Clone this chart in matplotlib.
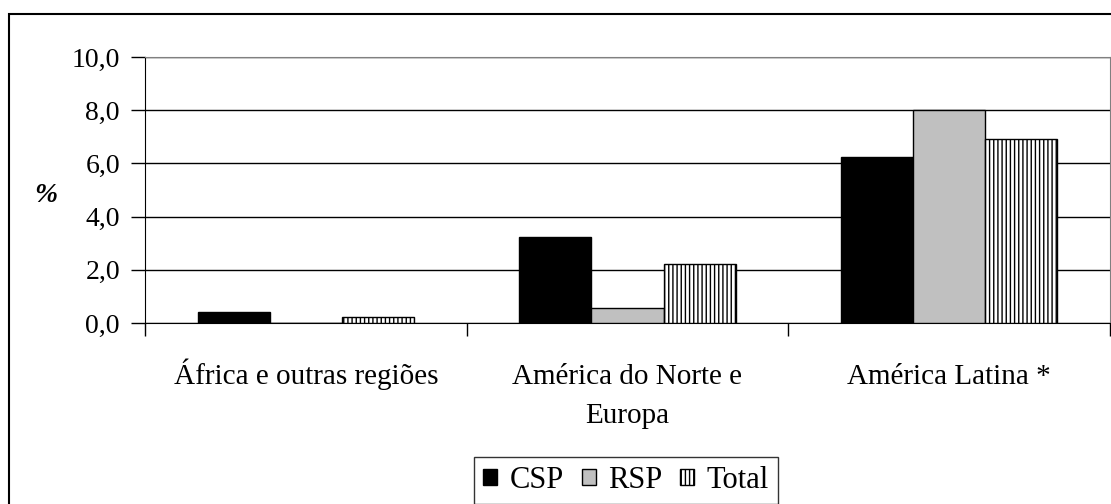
import matplotlib.pyplot as plt
import matplotlib.patches as mpatches
import matplotlib.ticker as mticker
import matplotlib.transforms as mtransforms
import numpy as np

plt.rcParams['font.family'] = ['Liberation Serif', 'DejaVu Serif']
plt.rcParams['hatch.linewidth'] = 1.0

regioes = ["África e outras regiões", "América do Norte e\nEuropa", "América Latina *"]
series = ["CSP", "RSP", "Total"]
csp = [0.40, 3.22, 6.23]
rsp = [0.0, 0.56, 8.0]
total = [0.21, 2.20, 6.93]
y_ticks = [0.0, 2.0, 4.0, 6.0, 8.0, 10.0]

fig = plt.figure(figsize=(11.11, 5.04), dpi=100, facecolor="white")

# cadre extérieur
fig.patches.append(mpatches.Rectangle((9 / 1111, -0.05), 1.2, 1 - 14 / 504 + 0.05,
                                      transform=fig.transFigure, fill=False,
                                      edgecolor="black", linewidth=1.5))

ax = fig.add_axes([145 / 1111, 181 / 504, 965 / 1111, 266 / 504])

x = np.arange(len(regioes))
w = 0.224
ax.bar(x - w, csp, w, color="black", edgecolor="black", linewidth=1, zorder=3)
ax.bar(x, rsp, w, color="#C0C0C0", edgecolor="black", linewidth=1, zorder=3)
ax.bar(x + w, total, w, color="white", edgecolor="black", hatch="||||", linewidth=1, zorder=3)

ax.set_xlim(-0.5, len(regioes) - 0.5)
ax.set_ylim(0, 10)
ax.set_yticks(y_ticks)
ax.yaxis.set_major_formatter(mticker.FuncFormatter(lambda v, p: f"{v:.1f}".replace(".", ",")))
ax.grid(axis="y", color="black", linewidth=1, zorder=0)

# graduations aux limites de catégories
ax.set_xticks(np.arange(len(regioes) + 1) - 0.5)
ax.set_xticklabels([])
ax.tick_params(axis="x", which="major", direction="out", length=9, width=1, color="black")
ax.tick_params(axis="y", direction="out", length=10, width=1, labelsize=20, pad=8)

# étiquettes de catégories : première ligne sur une base commune
trans = mtransforms.blended_transform_factory(ax.transData, ax.transAxes)
for xi, nom in zip(x, regioes):
    n = nom.count("\n")
    ax.text(xi, -(61 + 39 * n) / 266, nom, transform=trans, ha="center", va="baseline",
            fontsize=21, linespacing=1.63, multialignment="center")

ax.spines["left"].set_color("black")
ax.spines["bottom"].set_color("black")
ax.spines["top"].set_color("#808080")
ax.spines["right"].set_color("#808080")

fig.text(46 / 1111, 1 - 195 / 504, "%", fontsize=20, fontweight="bold", fontstyle="italic",
         ha="center", va="center")

handles = [mpatches.Patch(facecolor="black", edgecolor="black", label=series[0]),
           mpatches.Patch(facecolor="#C0C0C0", edgecolor="black", label=series[1]),
           mpatches.Patch(facecolor="white", edgecolor="black", hatch="||||", label=series[2])]
leg = fig.legend(handles=handles, loc="upper center", bbox_to_anchor=(626 / 1111, 1 - 457 / 504),
                 ncol=3, fontsize=22, frameon=True, fancybox=False, handlelength=0.45,
                 handleheight=0.45, handletextpad=0.4, columnspacing=0.6, borderpad=0.3,
                 borderaxespad=0)
leg.get_frame().set_edgecolor("black")
leg.get_frame().set_linewidth(1)

plt.savefig("out.png", dpi=100, facecolor="white")
